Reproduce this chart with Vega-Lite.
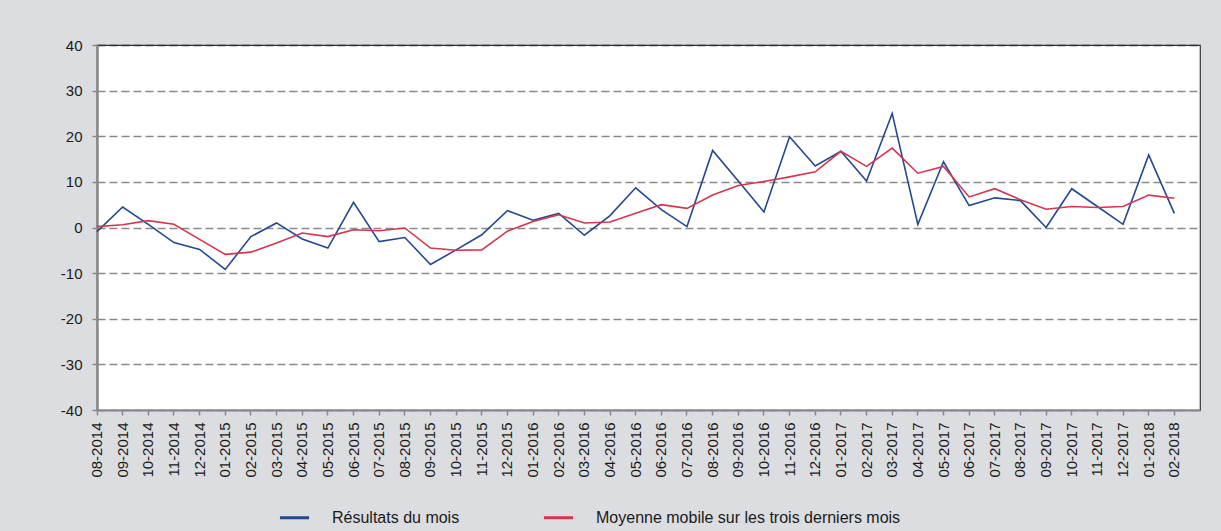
{
  "$schema": "https://vega.github.io/schema/vega-lite/v6.json",
  "autosize": {"type": "none"},
  "padding": {"left": 97, "top": 45, "right": 21, "bottom": 121},
  "width": 1103,
  "height": 365,
  "background": "#dcdde0",
  "config": {
    "font": "Liberation Sans",
    "view": {"fill": "white", "stroke": "#333333", "strokeWidth": 1.2}
  },
  "data": {
    "values": [
      {"m": "08-2014", "Résultats du mois": -0.9, "Moyenne mobile sur les trois derniers mois": 0.2},
      {"m": "09-2014", "Résultats du mois": 4.5, "Moyenne mobile sur les trois derniers mois": 0.6},
      {"m": "10-2014", "Résultats du mois": 0.7, "Moyenne mobile sur les trois derniers mois": 1.5},
      {"m": "11-2014", "Résultats du mois": -3.3, "Moyenne mobile sur les trois derniers mois": 0.7},
      {"m": "12-2014", "Résultats du mois": -4.8, "Moyenne mobile sur les trois derniers mois": -2.6},
      {"m": "01-2015", "Résultats du mois": -9.2, "Moyenne mobile sur les trois derniers mois": -5.9},
      {"m": "02-2015", "Résultats du mois": -2.0, "Moyenne mobile sur les trois derniers mois": -5.4},
      {"m": "03-2015", "Résultats du mois": 1.0, "Moyenne mobile sur les trois derniers mois": -3.4},
      {"m": "04-2015", "Résultats du mois": -2.5, "Moyenne mobile sur les trois derniers mois": -1.2},
      {"m": "05-2015", "Résultats du mois": -4.5, "Moyenne mobile sur les trois derniers mois": -2.0},
      {"m": "06-2015", "Résultats du mois": 5.5, "Moyenne mobile sur les trois derniers mois": -0.5},
      {"m": "07-2015", "Résultats du mois": -3.1, "Moyenne mobile sur les trois derniers mois": -0.7},
      {"m": "08-2015", "Résultats du mois": -2.2, "Moyenne mobile sur les trois derniers mois": -0.1},
      {"m": "09-2015", "Résultats du mois": -8.1, "Moyenne mobile sur les trois derniers mois": -4.5},
      {"m": "10-2015", "Résultats du mois": -4.9, "Moyenne mobile sur les trois derniers mois": -5.0},
      {"m": "11-2015", "Résultats du mois": -1.6, "Moyenne mobile sur les trois derniers mois": -4.9},
      {"m": "12-2015", "Résultats du mois": 3.7, "Moyenne mobile sur les trois derniers mois": -0.8},
      {"m": "01-2016", "Résultats du mois": 1.6, "Moyenne mobile sur les trois derniers mois": 1.3},
      {"m": "02-2016", "Résultats du mois": 3.1, "Moyenne mobile sur les trois derniers mois": 2.8},
      {"m": "03-2016", "Résultats du mois": -1.7, "Moyenne mobile sur les trois derniers mois": 1.0},
      {"m": "04-2016", "Résultats du mois": 2.6, "Moyenne mobile sur les trois derniers mois": 1.2},
      {"m": "05-2016", "Résultats du mois": 8.7, "Moyenne mobile sur les trois derniers mois": 3.1},
      {"m": "06-2016", "Résultats du mois": 3.9, "Moyenne mobile sur les trois derniers mois": 5.0},
      {"m": "07-2016", "Résultats du mois": 0.2, "Moyenne mobile sur les trois derniers mois": 4.2},
      {"m": "08-2016", "Résultats du mois": 16.9, "Moyenne mobile sur les trois derniers mois": 7.1},
      {"m": "09-2016", "Résultats du mois": 10.2, "Moyenne mobile sur les trois derniers mois": 9.2},
      {"m": "10-2016", "Résultats du mois": 3.4, "Moyenne mobile sur les trois derniers mois": 10.1},
      {"m": "11-2016", "Résultats du mois": 19.9, "Moyenne mobile sur les trois derniers mois": 11.1},
      {"m": "12-2016", "Résultats du mois": 13.5, "Moyenne mobile sur les trois derniers mois": 12.2},
      {"m": "01-2017", "Résultats du mois": 16.7, "Moyenne mobile sur les trois derniers mois": 16.7},
      {"m": "02-2017", "Résultats du mois": 10.2, "Moyenne mobile sur les trois derniers mois": 13.4},
      {"m": "03-2017", "Résultats du mois": 25.0, "Moyenne mobile sur les trois derniers mois": 17.4},
      {"m": "04-2017", "Résultats du mois": 0.7, "Moyenne mobile sur les trois derniers mois": 11.9},
      {"m": "05-2017", "Résultats du mois": 14.4, "Moyenne mobile sur les trois derniers mois": 13.4},
      {"m": "06-2017", "Résultats du mois": 4.8, "Moyenne mobile sur les trois derniers mois": 6.7},
      {"m": "07-2017", "Résultats du mois": 6.5, "Moyenne mobile sur les trois derniers mois": 8.5},
      {"m": "08-2017", "Résultats du mois": 5.9, "Moyenne mobile sur les trois derniers mois": 6.1},
      {"m": "09-2017", "Résultats du mois": 0.0, "Moyenne mobile sur les trois derniers mois": 4.0},
      {"m": "10-2017", "Résultats du mois": 8.5, "Moyenne mobile sur les trois derniers mois": 4.6},
      {"m": "11-2017", "Résultats du mois": 4.6, "Moyenne mobile sur les trois derniers mois": 4.4},
      {"m": "12-2017", "Résultats du mois": 0.7, "Moyenne mobile sur les trois derniers mois": 4.6},
      {"m": "01-2018", "Résultats du mois": 15.9, "Moyenne mobile sur les trois derniers mois": 7.1},
      {"m": "02-2018", "Résultats du mois": 3.1, "Moyenne mobile sur les trois derniers mois": 6.4}
    ]
  },
  "transform": [
    {"fold": ["Résultats du mois", "Moyenne mobile sur les trois derniers mois"], "as": ["serie", "valeur"]}
  ],
  "mark": {"type": "line", "strokeWidth": 1.6},
  "encoding": {
    "x": {
      "field": "m",
      "type": "ordinal",
      "sort": null,
      "bandPosition": 0,
      "scale": {"type": "band", "paddingInner": 0, "paddingOuter": 0},
      "axis": {
        "title": null,
        "bandPosition": 0,
        "labelAngle": -90,
        "labelOffset": -12.8,
        "labelFontSize": 15,
        "labelColor": "#1a1a1a",
        "labelPadding": 7,
        "tickSize": 5,
        "tickColor": "#888888",
        "tickWidth": 1.5,
        "domainColor": "#888888",
        "domainWidth": 2,
        "grid": false
      }
    },
    "y": {
      "field": "valeur",
      "type": "quantitative",
      "scale": {"domain": [-40, 40], "nice": false, "zero": false},
      "axis": {
        "title": null,
        "values": [-40, -30, -20, -10, 0, 10, 20, 30, 40],
        "labelExpr": "toString(datum.value)",
        "labelFontSize": 15,
        "labelColor": "#1a1a1a",
        "labelPadding": 10,
        "tickSize": 5,
        "tickColor": "#888888",
        "tickWidth": 1.5,
        "domainColor": "#888888",
        "domainWidth": 2.5,
        "grid": true,
        "gridColor": {"condition": {"test": "datum.value === 40", "value": "#333333"}, "value": "#8a8a8a"},
        "gridDash": [8, 4],
        "gridWidth": 1.5
      }
    },
    "color": {
      "field": "serie",
      "type": "nominal",
      "scale": {
        "domain": ["Résultats du mois", "Moyenne mobile sur les trois derniers mois"],
        "range": ["#23488f", "#d4354f"]
      },
      "legend": {
        "title": null,
        "orient": "none",
        "direction": "horizontal",
        "legendX": 181,
        "legendY": 456,
        "symbolType": "stroke",
        "symbolSize": 850,
        "symbolStrokeWidth": 3,
        "labelFontSize": 16,
        "labelColor": "#1a1a1a",
        "labelOffset": 21,
        "labelLimit": 500,
        "columnPadding": 77
      }
    },
    "order": {"value": null}
  }
}
